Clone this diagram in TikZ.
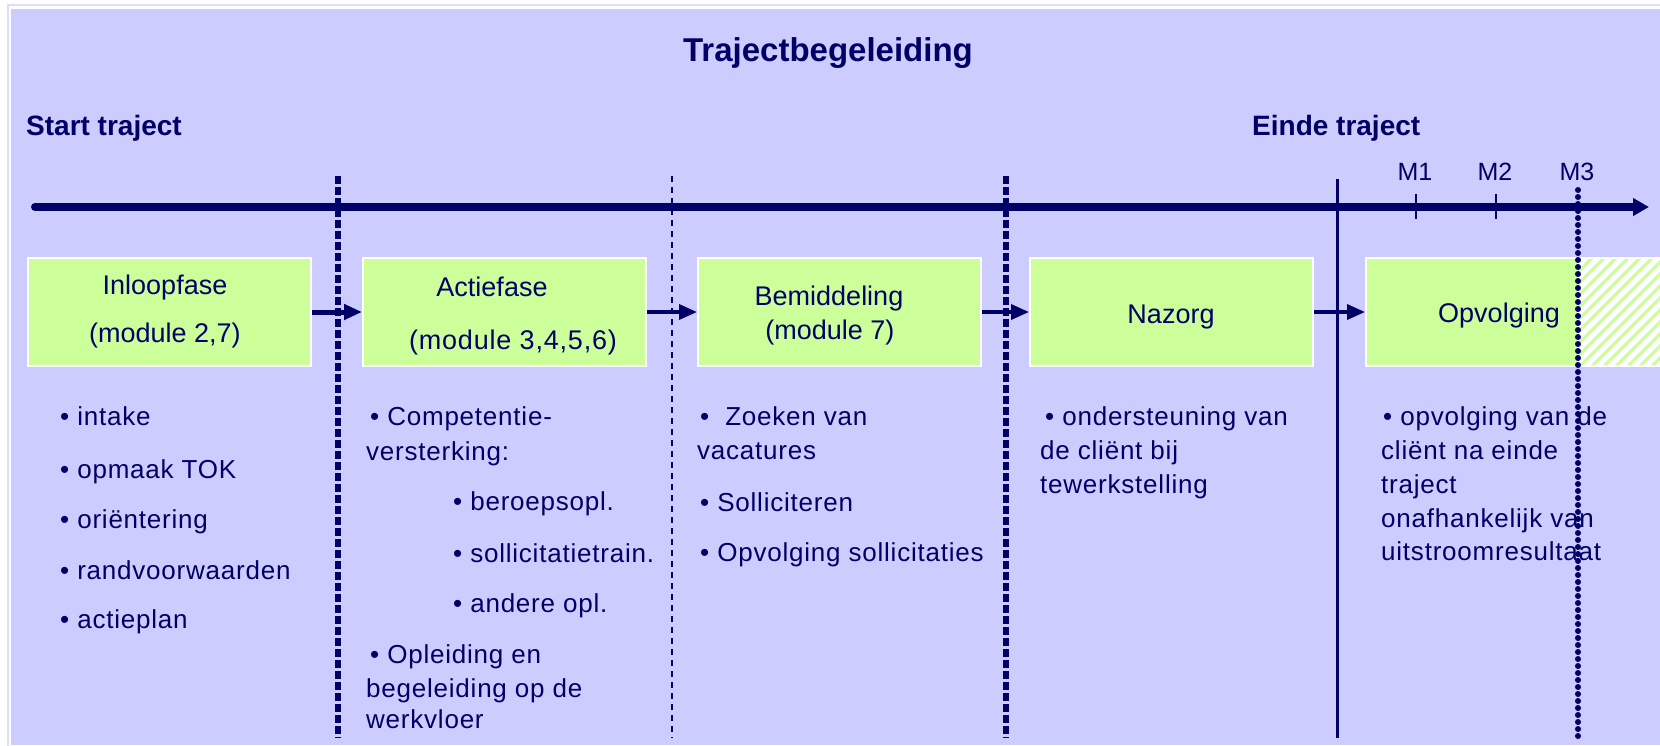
\documentclass[tikz,border=0pt]{standalone}
\usepackage{fontspec}
\setmainfont{Liberation Sans}
\usetikzlibrary{arrows.meta}
\definecolor{navy}{RGB}{0,0,102}
\definecolor{lav}{RGB}{204,204,255}
\definecolor{lavline}{RGB}{221,221,255}
\definecolor{lgreen}{RGB}{204,255,153}
\begin{document}
\begin{tikzpicture}[x=1pt,y=-1pt,
  txt/.style={font=\fontsize{26}{31}\selectfont\addfontfeature{LetterSpace=3}, text=navy, inner sep=0pt, anchor=base west},
  boxtxt/.style={font=\fontsize{27}{32}\selectfont, text=navy, inner sep=0pt, anchor=base},
  mlab/.style={font=\fontsize{25}{30}\selectfont, text=navy, inner sep=0pt, anchor=base},
  heading/.style={font=\bfseries\fontsize{28}{34}\selectfont, text=navy, inner sep=0pt, anchor=base west},
  phase/.style={draw=white, line width=2pt, fill=lgreen, minimum height=108pt, inner sep=0pt},
  flow/.style={navy, line width=3.5pt, -{Triangle[length=18pt,width=15pt]}},
  thickdash/.style={navy, line width=6pt, dash pattern=on 8pt off 3pt},
  thindash/.style={navy, line width=2.5pt, dash pattern=on 6pt off 5pt},
  rounddots/.style={navy, line width=6pt, line cap=round, dash pattern=on 0pt off 7pt},
  tick/.style={navy, line width=2.5pt},
]
\useasboundingbox (0,0) rectangle (1660,745);
\fill[white] (0,0) rectangle (1660,745);
\draw[lavline, line width=1.5pt] (8,5) rectangle (1670,760);
\fill[lav] (11,9) rectangle (1660,745);

% title and headings
\node[font=\bfseries\fontsize{33}{40}\selectfont, text=navy, inner sep=0pt, anchor=base] (title) at (828,61) {Trajectbegeleiding};
\node[heading] (start) at (26,135) {Start traject};
\node[heading] (einde) at (1252,135) {Einde traject};

% timeline
\coordinate (tlS) at (35,207);
\coordinate (tlE) at (1649,207);
\draw[navy, line width=8pt, line cap=round, -{Triangle[length=16pt,width=17pt]}] (tlS) -- (tlE);

% milestones
\coordinate (m1a) at (1416,194); \coordinate (m1b) at (1416,219);
\coordinate (m2a) at (1496,194); \coordinate (m2b) at (1496,219);
\draw[tick] (m1a) -- (m1b);
\draw[tick] (m2a) -- (m2b);
\node[mlab] (m1) at (1415,180) {M1};
\node[mlab] (m2) at (1495,180) {M2};
\node[mlab] (m3) at (1577,180) {M3};

% phase boxes
\node[phase, minimum width=283pt] (b1) at (169.5,312) {};
\node[phase, minimum width=283pt] (b2) at (504.5,312) {};
\node[phase, minimum width=283pt] (b3) at (839.5,312) {};
\node[phase, minimum width=283pt] (b4) at (1171.5,312) {};
\node[phase, minimum width=212pt] (b5) at (1472,312) {};

% hatched continuation
\begin{scope}
  \clip (1578,259) rectangle (1664,365);
  \fill[white] (1578,259) rectangle (1664,365);
  \foreach \i in {0,...,18} \draw[lgreen, line width=3.2pt] ({1470+\i*12},380) -- ++(140,-140);
\end{scope}
\draw[white, line width=2pt] (1578,258) -- (1664,258);
\draw[white, line width=2pt] (1578,366) -- (1664,366);

% box texts
\node[boxtxt] (b1t1) at (165,294) {Inloopfase};
\node[boxtxt] (b1t2) at (165,342) {(module 2,7)};
\node[boxtxt] (b2t1) at (492,296) {Actiefase};
\node[boxtxt, font=\fontsize{27}{32}\selectfont\addfontfeature{LetterSpace=3}] (b2t2) at (513,349) {(module 3,4,5,6)};
\node[boxtxt] (b3t1) at (829,305) {Bemiddeling};
\node[boxtxt] (b3t2) at (830,339) {(module 7)};
\node[boxtxt] (b4t) at (1171,323) {Nazorg};
\node[boxtxt] (b5t) at (1499,322) {Opvolging};

% flow arrows
\draw[flow, line width=5pt] (b1.east) -- (b2.west);
\draw[flow] (b2.east) -- (b3.west);
\draw[flow] (b3.east) -- (b4.west);
\draw[flow] (b4.east) -- (b5.west);

% column 1
\node[txt] (c1a) at (60,425) {• intake};
\node[txt] (c1b) at (60,478) {• opmaak TOK};
\node[txt] (c1c) at (60,528) {• oriëntering};
\node[txt] (c1d) at (60,579) {• randvoorwaarden};
\node[txt] (c1e) at (60,628) {• actieplan};

% column 2
\node[txt] (c2a) at (370,425) {• Competentie-};
\node[txt] (c2b) at (366,460) {versterking:};
\node[txt] (c2c) at (453,510) {• beroepsopl.};
\node[txt] (c2d) at (453,562) {• sollicitatietrain.};
\node[txt] (c2e) at (453,612) {• andere opl.};
\node[txt] (c2f) at (370,663) {• Opleiding en};
\node[txt] (c2g) at (366,697) {begeleiding op de};
\node[txt] (c2h) at (366,728) {werkvloer};

% column 3
\node[txt] (c3a) at (700,425) {•\ \ Zoeken van};
\node[txt] (c3b) at (697,459) {vacatures};
\node[txt] (c3c) at (700,511) {• Solliciteren};
\node[txt] (c3d) at (700,561) {• Opvolging sollicitaties};

% column 4
\node[txt] (c4a) at (1045,425) {• ondersteuning van};
\node[txt] (c4b) at (1040,459) {de cliënt bij};
\node[txt] (c4c) at (1040,493) {tewerkstelling};

% column 5
\node[txt] (c5a) at (1383,425) {• opvolging van de};
\node[txt] (c5b) at (1381,459) {cliënt na einde};
\node[txt] (c5c) at (1381,493) {traject};
\node[txt] (c5d) at (1381,527) {onafhankelijk van};
\node[txt] (c5e) at (1381,560) {uitstroomresultaat};

% vertical separators
\coordinate (v1t) at (338,176); \coordinate (v1b) at (338,738);
\coordinate (v2t) at (672,176); \coordinate (v2b) at (672,738);
\coordinate (v3t) at (1006,176); \coordinate (v3b) at (1006,738);
\coordinate (v4t) at (1337,179); \coordinate (v4b) at (1337,738);
\coordinate (v5t) at (1578,190); \coordinate (v5b) at (1578,738);
\draw[thickdash] (v1t) -- (v1b);
\draw[thindash] (v2t) -- (v2b);
\draw[thickdash] (v3t) -- (v3b);
\draw[navy, line width=3pt] (v4t) -- (v4b);
\draw[rounddots] (v5t) -- (v5b);
\end{tikzpicture}
\end{document}
